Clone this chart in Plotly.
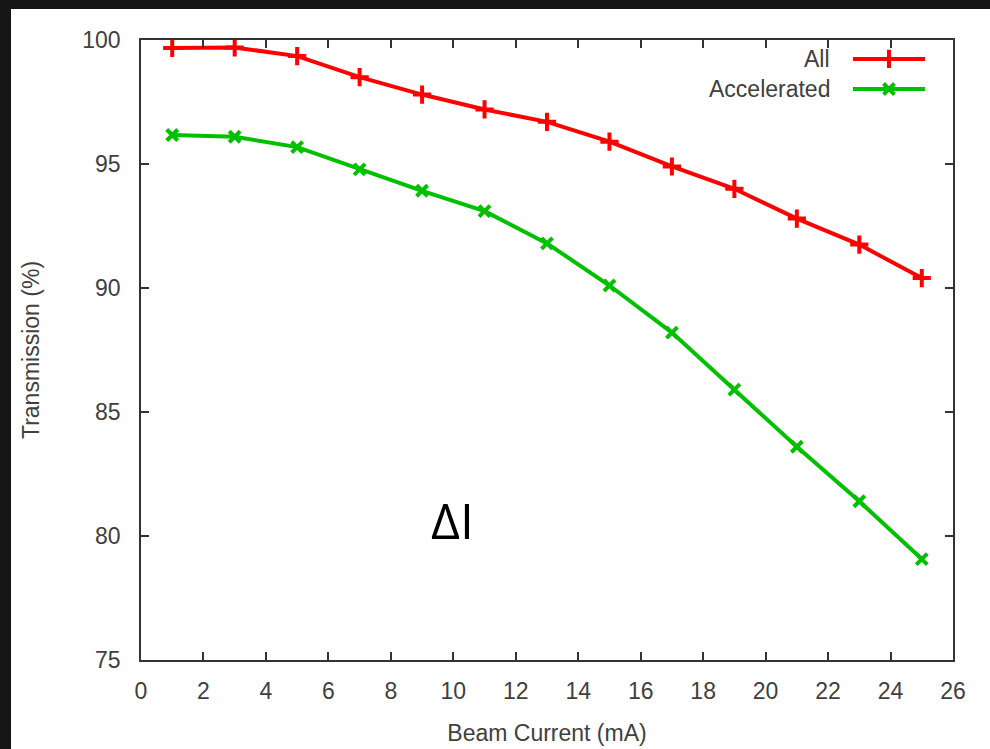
import plotly.graph_objects as go

# Beam current (mA) and transmission (%) for both particle populations
beam_current = [1, 3, 5, 7, 9, 11, 13, 15, 17, 19, 21, 23, 25]
transmission_all = [99.68, 99.7, 99.35, 98.5, 97.8, 97.2, 96.7, 95.9, 94.9, 94.0, 92.8, 91.75, 90.4]
transmission_accel = [96.17, 96.1, 95.68, 94.78, 93.92, 93.1, 91.8, 90.1, 88.2, 85.9, 83.6, 81.4, 79.07]
series_names = ["All", "Accelerated"]

x_ticks = list(range(0, 27, 2))
y_ticks = [75, 80, 85, 90, 95, 100]

RED = "#ff0000"
GREEN = "#00c000"
TXT = "#404040"
FONT = "Liberation Sans, Arial, sans-serif"
FS = 23

fig = go.Figure()

fig.add_trace(go.Scatter(
    x=beam_current, y=transmission_all, mode="lines+markers", name=series_names[0],
    line=dict(color=RED, width=4),
    marker=dict(symbol="cross-thin", size=13, line=dict(color=RED, width=4)),
    showlegend=False,
))
fig.add_trace(go.Scatter(
    x=beam_current, y=transmission_accel, mode="lines+markers", name=series_names[1],
    line=dict(color=GREEN, width=4),
    marker=dict(symbol="x-thin", size=11, line=dict(color=GREEN, width=4)),
    showlegend=False,
))

# Key samples (line + symbol) drawn on a hidden unit overlay
key_rows = [0.9694, 0.921]
key_styles = [
    (RED, "cross-thin", 13),
    (GREEN, "x-thin", 11),
]
for yk, (col, sym, sz) in zip(key_rows, key_styles):
    fig.add_trace(go.Scatter(
        x=[0.8768, 0.9655], y=[yk, yk], mode="lines", xaxis="x2", yaxis="y2",
        line=dict(color=col, width=4), showlegend=False, hoverinfo="skip",
    ))
    fig.add_trace(go.Scatter(
        x=[0.9212], y=[yk], mode="markers", xaxis="x2", yaxis="y2",
        marker=dict(symbol=sym, size=sz, line=dict(color=col, width=4)),
        showlegend=False, hoverinfo="skip",
    ))

annotations = []
for yk, name in zip(key_rows, series_names):
    annotations.append(dict(
        x=0.851, y=yk, xref="paper", yref="paper", text=name, showarrow=False,
        xanchor="right", yanchor="middle", font=dict(family=FONT, size=FS, color=TXT),
    ))
annotations.append(dict(
    x=9.96, y=80.65, xref="x", yref="y", text="ΔI", showarrow=False,
    xanchor="center", yanchor="middle",
    font=dict(family="Open Sans, DejaVu Sans, sans-serif", size=50, color="#000000"),
))

axis_common = dict(
    showline=True, linecolor="#333333", linewidth=1.5, mirror="ticks",
    ticks="inside", ticklen=8, tickwidth=1.5, tickcolor="#333333",
    showgrid=False, zeroline=False, automargin=False,
    tickfont=dict(family=FONT, size=FS, color=TXT),
)

fig.update_layout(
    width=990, height=749,
    margin=dict(l=141, r=37, t=40, b=89),
    paper_bgcolor="#161616",
    plot_bgcolor="#ffffff",
    xaxis=dict(
        range=[0, 26], tickvals=x_ticks, ticklabelstandoff=10,
        title=dict(text="Beam Current (mA)", font=dict(family=FONT, size=FS, color=TXT), standoff=22),
        **axis_common,
    ),
    yaxis=dict(
        range=[75, 100], tickvals=y_ticks, ticklabelstandoff=14,
        title=dict(text="Transmission (%)", font=dict(family=FONT, size=FS, color=TXT), standoff=36),
        **axis_common,
    ),
    xaxis2=dict(overlaying="x", range=[0, 1], visible=False),
    yaxis2=dict(overlaying="y", range=[0, 1], visible=False),
    annotations=annotations,
    shapes=[dict(
        type="rect", xref="paper", yref="paper", layer="below",
        x0=-0.1601, x1=1.06, y0=-0.16, y1=1.05,
        fillcolor="#ffffff", line=dict(width=0),
    )],
)

fig.write_html("out.html")
